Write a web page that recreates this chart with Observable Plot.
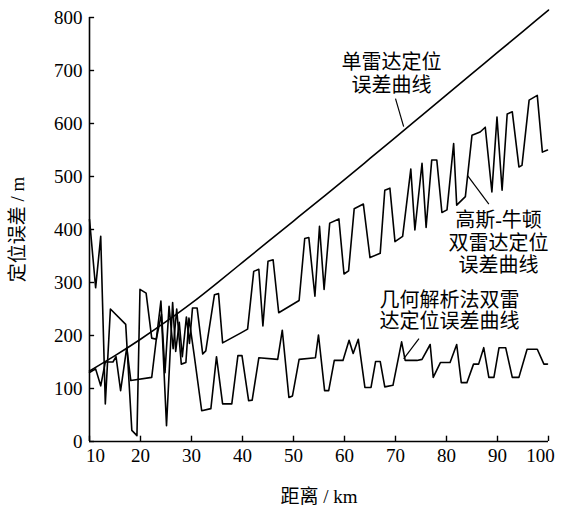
<!DOCTYPE html>
<html>
<head>
<meta charset="utf-8">
<script src="https://cdn.jsdelivr.net/npm/d3@7"></script>
<script src="https://cdn.jsdelivr.net/npm/@observablehq/plot@0.6"></script>
<style>
  html, body { margin: 0; padding: 0; background: #fff; }
  #chart svg { display: block; }
</style>
</head>
<body>
<div id="chart"></div>
<script>
// ---- data ----
const xTicks = [10, 20, 30, 40, 50, 60, 70, 80, 90, 100];
const yTicks = [0, 100, 200, 300, 400, 500, 600, 700, 800];

// 单雷达定位误差曲线
const singleX = [10, 15, 20, 25, 30, 35, 40, 45, 50, 55, 60, 65, 70, 75, 80, 85, 90, 95, 100];
const singleY = [133, 162, 193, 226, 261, 299, 338, 377, 416, 455, 494, 534, 574, 614, 654, 694, 734, 774, 814];

// 高斯-牛顿双雷达定位误差曲线
const gnX = [10, 11.2, 12.2, 13.1, 14.1, 17.1, 18.3, 19.3, 19.9, 21.1, 22.2, 23.1, 24.1, 25.1, 26.3, 26.9, 27.6, 28.2, 29.0, 29.6, 30.2, 31.1, 32.2, 32.8, 34.5, 35.3, 36.1, 39.7, 41.0, 42.2, 43.2, 44.0, 45.0, 46.0, 47.1, 51.1, 52.2, 53.0, 54.2, 55.1, 56.0, 57.1, 58.9, 59.9, 60.8, 61.9, 63.7, 65.0, 67.0, 67.9, 68.9, 69.9, 71.4, 73.0, 73.8, 75.2, 76.0, 77.1, 78.1, 79.1, 80.1, 81.4, 82.0, 83.7, 85.0, 86.6, 87.6, 88.9, 89.9, 90.9, 91.9, 92.9, 94.2, 94.8, 96.2, 97.8, 98.8, 99.8];
const gnY = [419, 290, 387, 71, 250, 221, 21, 11, 287, 280, 195, 193, 240, 30, 262, 170, 225, 160, 235, 185, 252, 252, 165, 171, 277, 279, 186, 205, 212, 321, 325, 218, 340, 343, 243, 266, 383, 385, 274, 406, 287, 412, 420, 316, 322, 439, 448, 347, 355, 474, 478, 377, 387, 514, 399, 525, 404, 531, 531, 432, 437, 562, 446, 462, 578, 584, 593, 471, 612, 474, 618, 622, 518, 521, 644, 653, 546, 550];

// 几何解析法双雷达定位误差曲线
const geoX = [10, 11.2, 12.2, 13.1, 14.6, 15.2, 16.1, 17.3, 18.1, 22.2, 24.0, 24.8, 25.6, 26.4, 27.1, 28.0, 28.9, 29.5, 30.5, 32.0, 33.8, 34.9, 36.1, 37.9, 39.1, 39.9, 41.2, 41.9, 43.2, 46.9, 47.8, 49.1, 49.8, 51.1, 54.3, 54.9, 56.1, 56.9, 58.0, 59.7, 60.9, 61.7, 62.7, 64.0, 65.2, 66.1, 67.0, 67.9, 69.5, 71.2, 71.9, 74.2, 75.2, 76.8, 77.4, 78.8, 80.7, 82.0, 82.9, 84.0, 85.3, 86.3, 87.3, 88.3, 89.3, 90.3, 91.6, 92.9, 94.2, 95.8, 97.8, 99.1, 99.8];
const geoY = [130, 137, 105, 150, 150, 160, 96, 177, 115, 121, 265, 130, 255, 175, 250, 146, 149, 233, 165, 58, 62, 160, 71, 71, 162, 162, 77, 78, 158, 155, 210, 83, 86, 155, 158, 201, 96, 96, 153, 153, 191, 166, 193, 102, 102, 151, 151, 103, 106, 188, 153, 153, 155, 183, 121, 149, 149, 183, 111, 111, 146, 146, 177, 121, 121, 177, 177, 121, 121, 174, 174, 146, 146];

// annotations
const labelText = ["单雷达定位", "误差曲线", "高斯-牛顿", "双雷达定位", "误差曲线", "几何解析法双雷", "达定位误差曲线"];
const labelX = [69.2, 69.2, 90.2, 90.2, 90.2, 80.6, 80.6];
const labelY = [715, 672, 417, 374, 332, 265, 226];
const leaderX1 = [70.0, 84.1, 71.6];
const leaderY1 = [647, 502, 156];
const leaderX2 = [71.6, 88.3, 74.6];
const leaderY2 = [594, 448, 194];

// ---- build tables ----
const single = singleX.map((x, i) => ({x, y: singleY[i]}));
const gn = gnX.map((x, i) => ({x, y: gnY[i]}));
const geo = geoX.map((x, i) => ({x, y: geoY[i]}));
const labels = labelText.map((t, i) => ({t, x: labelX[i], y: labelY[i]}));
const leaders = leaderX1.map((x1, i) => ({x1, y1: leaderY1[i], x2: leaderX2[i], y2: leaderY2[i]}));

const FONT = '"Liberation Serif", "Noto Sans CJK SC", serif';
const midTicks = xTicks.slice(1, -1);

const chart = Plot.plot({
  width: 561,
  height: 509,
  marginLeft: 89,
  marginRight: 13,
  marginTop: 17,
  marginBottom: 68,
  style: {fontFamily: FONT, fontSize: "19px", background: "white", color: "black"},
  x: {domain: [10, 100]},
  y: {domain: [0, 800]},
  marks: [
    Plot.axisX({ticks: midTicks, tickSize: 0, tickPadding: 7, tickFormat: d => String(d),
      label: "距离 / km", labelAnchor: "center", labelArrow: "none", labelOffset: 61, fontSize: 19}),
    Plot.axisX({ticks: [xTicks[0]], tickSize: 0, tickPadding: 7, tickFormat: d => String(d), dx: 6, label: null, fontSize: 19}),
    Plot.axisX({ticks: [xTicks[xTicks.length - 1]], tickSize: 0, tickPadding: 7, tickFormat: d => String(d), dx: -8, label: null, fontSize: 19}),
    Plot.axisY({ticks: yTicks, tickSize: 0, tickPadding: 7, tickFormat: d => String(d),
      label: "定位误差 / m", labelAnchor: "center", labelArrow: "none", labelOffset: 79, fontSize: 19}),
    Plot.ruleX(xTicks, {y1: 0, y2: 10, stroke: "black", strokeWidth: 1.4}),
    Plot.ruleY(yTicks, {x1: 10, x2: 11, stroke: "black", strokeWidth: 1.4}),
    Plot.ruleX([10], {stroke: "black", strokeWidth: 1.6}),
    Plot.ruleY([0], {stroke: "black", strokeWidth: 1.6}),
    Plot.line(single, {x: "x", y: "y", curve: "natural", stroke: "black", strokeWidth: 1.6}),
    Plot.line(gn, {x: "x", y: "y", stroke: "black", strokeWidth: 1.6}),
    Plot.line(geo, {x: "x", y: "y", stroke: "black", strokeWidth: 1.6}),
    Plot.link(leaders, {x1: "x1", y1: "y1", x2: "x2", y2: "y2", stroke: "black", strokeWidth: 1.2}),
    Plot.text(labels, {x: "x", y: "y", text: "t", fontSize: 20, fill: "black", textAnchor: "middle"})
  ]
});
document.getElementById("chart").appendChild(chart);
</script>
</body>
</html>
